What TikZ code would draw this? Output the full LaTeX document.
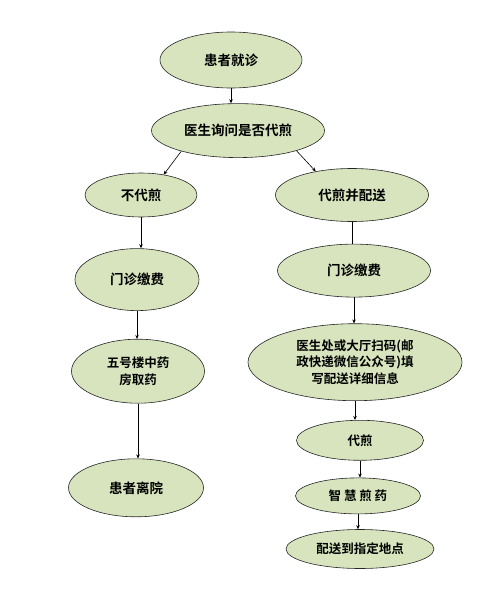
\documentclass[tikz,border=0pt]{standalone}
\usepackage{fontspec}
\newfontfamily\cjk{Noto Sans CJK SC}[BoldFont={Noto Sans CJK SC Bold}]
\usepackage{xcolor}
\usepackage{tikz}
\usetikzlibrary{shapes.geometric,arrows.meta,positioning,calc}
\definecolor{stagefill}{HTML}{D7E4BD}
\tikzset{
    stage/.style={
        ellipse,
        draw=black!85,
        fill=stagefill,
        line width=0.6pt,
        inner sep=0pt,
        align=center,
        font=\cjk\bfseries\fontsize{13.5}{17}\selectfont
    },
    small/.style={
        font=\cjk\bfseries\fontsize{12.5}{16.7}\selectfont % smaller text in the lower boxes
    }
}

\begin{document}
\begin{tikzpicture}[x=1pt, y=-1pt, >={Stealth[length=4pt,width=3.5pt]}, line width=0.6pt]
    \useasboundingbox (0,0) rectangle (502,591);

    \node (visit) [stage, minimum width=142pt, minimum height=56pt] at (231,60) {患者就诊};
    \node (ask) [stage, minimum width=173pt, minimum height=54pt, below=15pt of visit, xshift=7pt] {医生询问是否代煎};

    % left branch
    \node (noDecoct) [stage, minimum width=112pt, minimum height=44pt] at (141,195) {不代煎};
    \node (payLeft) [stage, minimum width=124pt, minimum height=62pt, below=31pt of noDecoct, xshift=-4pt] {门诊缴费};
    \node (pickup) [stage, small, minimum width=133pt, minimum height=64pt, below=28pt of payLeft, xshift=1pt] {五号楼中药\\房取药};
    \node (leave) [stage, minimum width=135pt, minimum height=58pt, below=55pt of pickup, xshift=-2pt] {患者离院};

    % right branch
    \node (decoct) [stage, minimum width=153pt, minimum height=53pt] at (352,195) {代煎并配送};
    \node (payRight) [stage, minimum width=153pt, minimum height=53pt, below=22pt of decoct, xshift=2pt] {门诊缴费};
    \node (address) [stage, small, minimum width=214pt, minimum height=77pt, below=26pt of payRight, xshift=1pt] {医生处或大厅扫码(邮\\政快递微信公众号)填\\写配送详细信息};
    \node (boil) [stage, small, minimum width=127pt, minimum height=40pt, below=19pt of address, xshift=5pt] {代煎};
    \node (smart) [stage, small, minimum width=125pt, minimum height=36pt, below=17pt of boil, xshift=-2pt] {智 慧 煎 药};
    \node (deliver) [stage, small, minimum width=148pt, minimum height=39pt, below=15pt of smart, xshift=2pt] {配送到指定地点};

    \draw [->] (visit.south) -- (visit.south |- ask.north);
    \draw [->] (ask.200) -- (noDecoct.42);
    \draw [->] (ask.341) -- (decoct.147);

    \draw [->] (noDecoct.south) -- (noDecoct.south |- payLeft.north);
    \draw [->] (payLeft.south) -- (payLeft.south |- pickup.north);
    \draw [->] (pickup.south) -- (pickup.south |- leave.north);

    \draw (decoct.south) -- (decoct.south |- payRight.north);
    \draw [->] (payRight.south) -- (payRight.south |- address.north);
    \draw [->] (address.south) -- (address.south |- boil.north);
    \draw [->] (boil.south) -- (boil.south |- smart.north);
    \draw [->] (smart.south) -- (smart.south |- deliver.north);
\end{tikzpicture}
\end{document}
